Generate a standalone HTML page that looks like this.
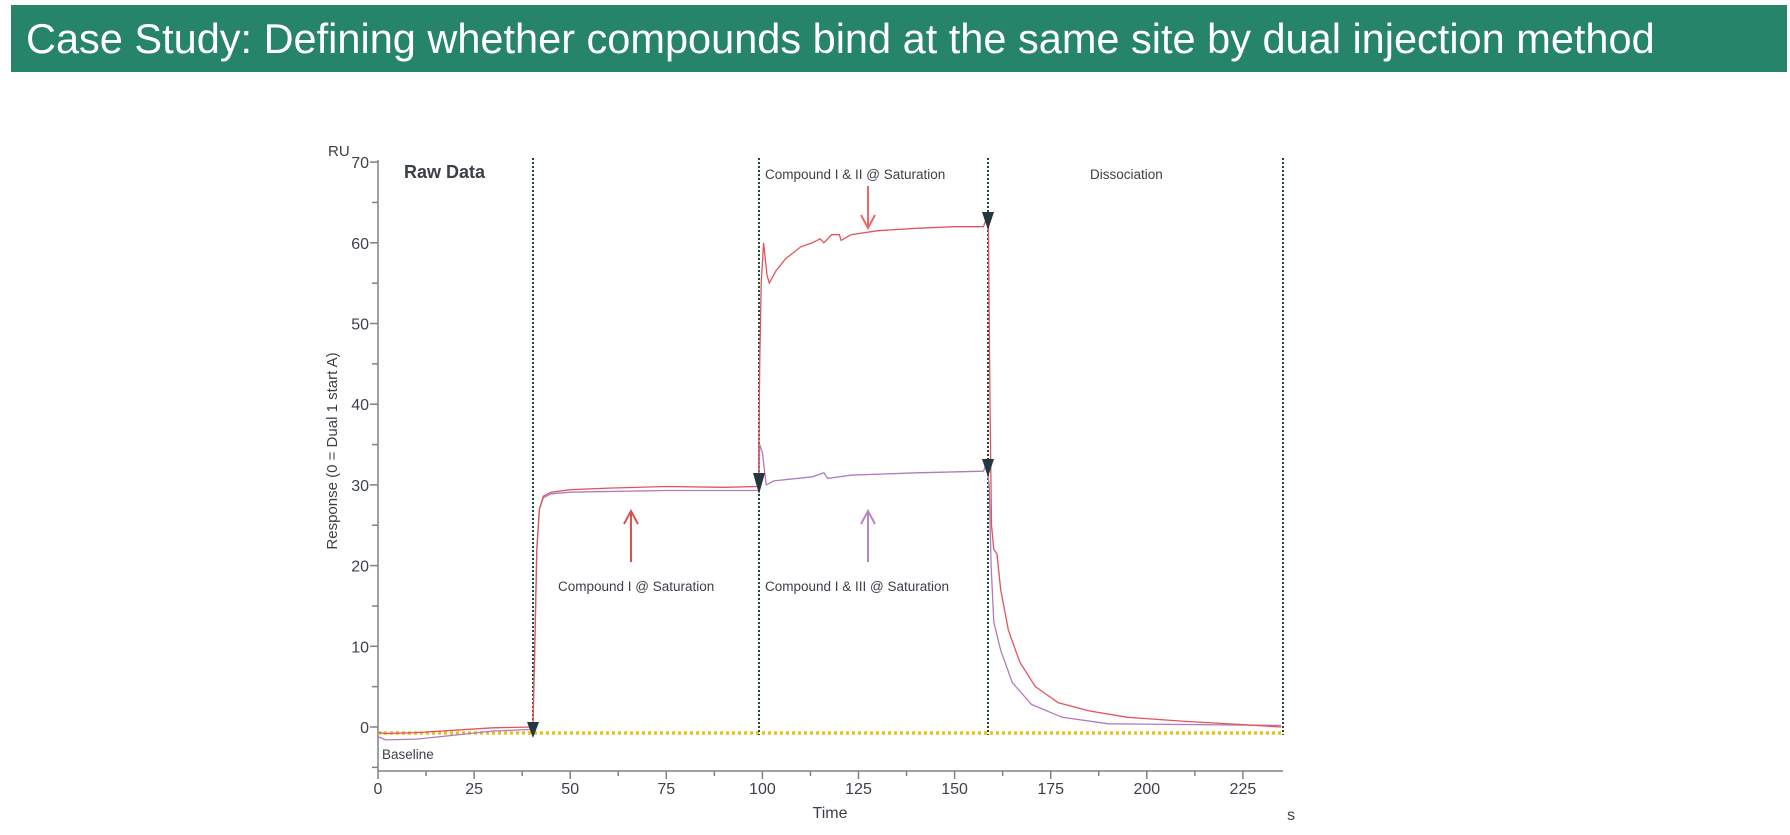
<!DOCTYPE html>
<html><head><meta charset="utf-8"><style>
html,body{margin:0;padding:0;background:#fff;width:1790px;height:835px;overflow:hidden}
.hdr{position:absolute;left:11px;top:5px;width:1776px;height:67px;background:#26846a;color:#fff;font-family:"Liberation Sans",sans-serif;font-size:41.5px;line-height:67px;padding-left:15px;box-sizing:border-box;white-space:nowrap}
svg{position:absolute;left:0;top:0}
text{font-family:"Liberation Sans","DejaVu Sans",sans-serif;fill:#3c4148}
</style></head><body>
<div class="hdr">Case Study: Defining whether compounds bind at the same site by dual injection method</div>
<svg id="s" width="1790" height="835" viewBox="0 0 1790 835">
<g id="axes" stroke="#7d8288" stroke-width="1.5" fill="none"></g>
<g id="lbl" font-size="16"></g>
<line x1="378" y1="733" x2="1283" y2="733" stroke="#e8c21a" stroke-width="3.5" stroke-dasharray="3,3"/>
<g stroke="#1c4a38" stroke-width="2" stroke-dasharray="2,2">
<line x1="533" y1="158" x2="533" y2="735"/>
<line x1="759" y1="158" x2="759" y2="735"/>
<line x1="988" y1="158" x2="988" y2="735"/>
<line x1="1283" y1="158" x2="1283" y2="735"/>
</g>
<polyline id="pur" fill="none" stroke="#b07ac0" stroke-width="1.3"/>
<polyline id="red" fill="none" stroke="#e0555a" stroke-width="1.3"/>
<g fill="#25373f">
<path d="M527,722 L539,722 L533,738 Z"/>
<path d="M753,473 L765,473 L759,494 Z"/>
<path d="M982,212 L994,212 L988,230 Z"/>
<path d="M982,459 L994,459 L988,477 Z"/>
</g>
<g stroke-width="2" fill="none">
<path d="M868,186 L868,227 M861,215 L868,228 L875,215" stroke="#e8686a"/>
<path d="M631,562 L631,512 M624,524 L631,511 L638,524" stroke="#d9534f"/>
<path d="M868,562 L868,512 M861,524 L868,511 L875,524" stroke="#b985c8"/>
</g>
<text x="404" y="178" font-size="18" font-weight="bold">Raw Data</text>
<text x="765" y="179" font-size="13.5">Compound I &amp; II @ Saturation</text>
<text x="1090" y="179" font-size="13.5">Dissociation</text>
<text x="558" y="591" font-size="13.5">Compound I @ Saturation</text>
<text x="765" y="591" font-size="13.5">Compound I &amp; III @ Saturation</text>
<text x="382" y="759" font-size="13.5">Baseline</text>
<text x="328" y="156" font-size="15">RU</text>
<text transform="translate(337,451) rotate(-90)" text-anchor="middle" font-size="15">Response (0 = Dual 1 start A)</text>
<text x="830" y="818" font-size="16" text-anchor="middle">Time</text>
<text x="1287" y="820" font-size="16">s</text>
</svg>
<script>
var X=t=>378+3.844*t, Y=v=>727-8.07*v;
var ax=document.getElementById('axes'),lb=document.getElementById('lbl'),h='',l='';
h+='<line x1="378" y1="160" x2="378" y2="771"/><line x1="378" y1="771" x2="1283" y2="771"/>';
for(var v=0;v<=70;v+=5){var y=Y(v);h+='<line x1="'+(v%10?372:370)+'" y1="'+y+'" x2="378" y2="'+y+'"/>';if(v%10==0)l+='<text x="369" y="'+(y+6)+'" text-anchor="end">'+v+'</text>';}
h+='<line x1="372" y1="'+Y(-5)+'" x2="378" y2="'+Y(-5)+'"/>';
for(var t=0;t<=235;t+=12.5){var x=X(t);h+='<line x1="'+x+'" y1="771" x2="'+x+'" y2="'+(t%25?776:779)+'"/>';if(t%25==0)l+='<text x="'+x+'" y="794" text-anchor="middle">'+t+'</text>';}
ax.innerHTML=h;lb.innerHTML=l;
function P(a){return a.map(p=>X(p[0]).toFixed(1)+','+Y(p[1]).toFixed(1)).join(' ');}
document.getElementById('red').setAttribute('points',P([[0,-0.7],[2,-0.8],[10,-0.7],[20,-0.4],[30,-0.1],[40,0],[40.3,0],[40.8,10],[41.3,22],[42,27],[43,28.6],[45,29.1],[50,29.4],[60,29.6],[75,29.8],[90,29.7],[99,29.8],[99.3,45],[99.7,55],[100.3,60],[101.2,56],[101.8,55],[103.5,56.5],[106,58],[110,59.5],[113,60],[115,60.5],[116,60],[118,61],[120,61],[120.5,60.3],[123,61],[130,61.5],[140,61.8],[150,62],[157.5,62],[158.3,63],[158.8,62],[159.2,40],[159.6,25],[160.2,22],[161,21.5],[162,17],[164,12],[167,8],[171,5],[177,3],[185,2],[195,1.2],[210,0.7],[225,0.3],[235,0]]));
document.getElementById('pur').setAttribute('points',P([[0,-1.2],[2,-1.6],[10,-1.5],[20,-1.0],[30,-0.5],[40,-0.3],[40.3,-0.3],[40.8,10],[41.3,22],[42,27],[43,28.4],[45,28.9],[50,29.1],[75,29.3],[99,29.3],[99.3,35],[100,34],[101,30],[103,30.5],[113,31],[116,31.5],[117,30.8],[123,31.2],[140,31.5],[157.5,31.7],[158.3,32.5],[159,30],[159.5,20],[160.2,13],[162,9.5],[165,5.5],[170,2.8],[178,1.2],[190,0.4],[235,0.2]]));
</script>
</body></html>
